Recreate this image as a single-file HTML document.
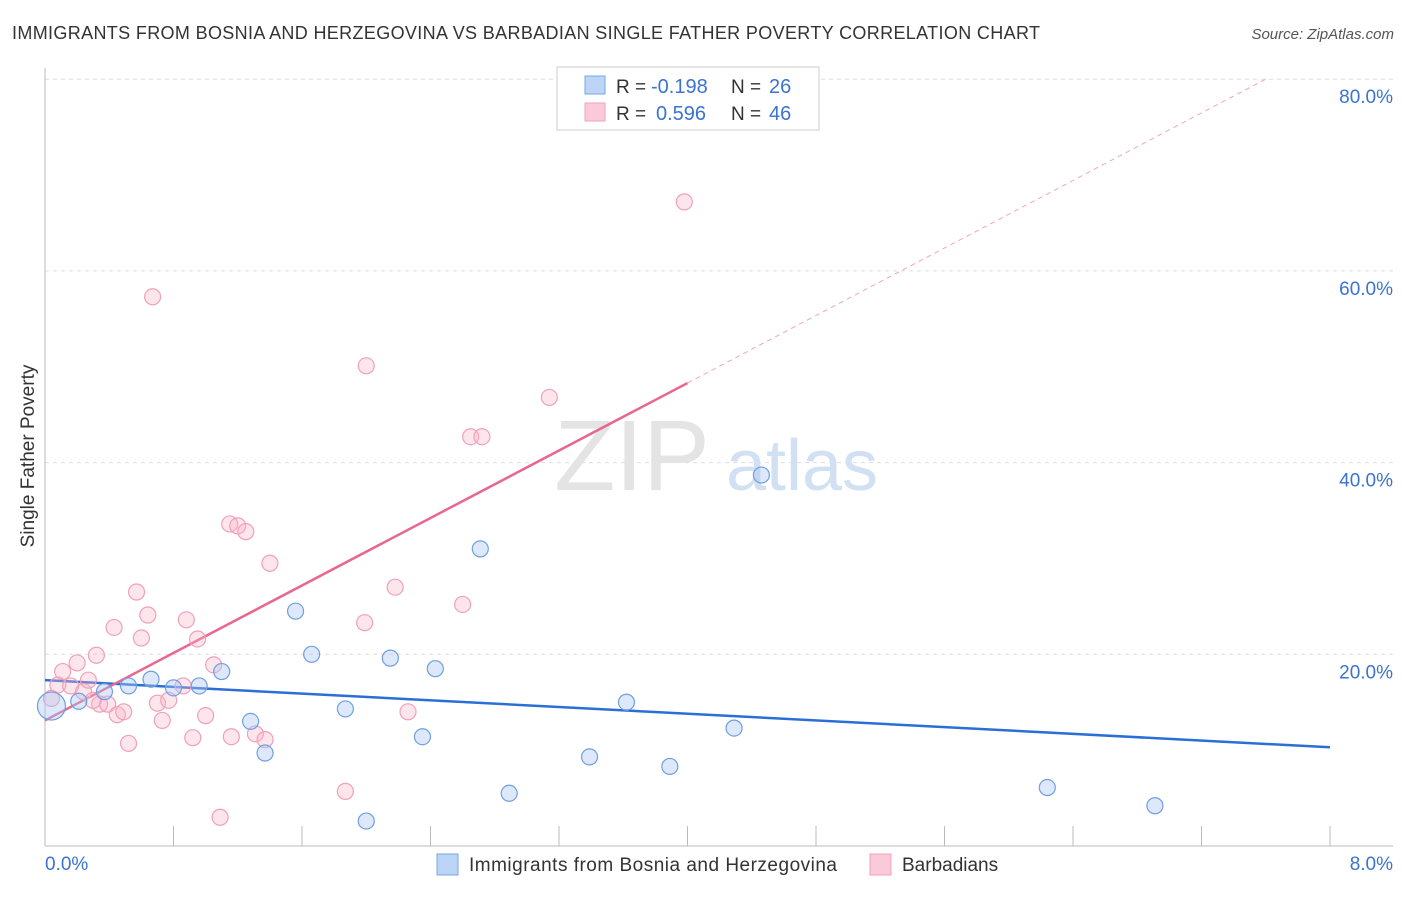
<!DOCTYPE html>
<html><head><meta charset="utf-8"><style>
body{margin:0;background:#fff;font-family:"Liberation Sans",sans-serif;}
svg text{font-family:"Liberation Sans",sans-serif;}
</style></head><body>
<svg width="1406" height="892" xmlns="http://www.w3.org/2000/svg">
<text x="12" y="39" font-size="18" fill="#333" textLength="1028" lengthAdjust="spacing">IMMIGRANTS FROM BOSNIA AND HERZEGOVINA VS BARBADIAN SINGLE FATHER POVERTY CORRELATION CHART</text>
<text x="1394" y="39" font-size="15" fill="#555" font-style="italic" text-anchor="end">Source: ZipAtlas.com</text>
<g id="grid"></g>
<text x="632" y="490" font-size="100" fill="#e4e4e4" font-family="Liberation Serif" text-anchor="middle">ZIP</text>
<text x="802" y="490" font-size="72" fill="#d2e0f3" text-anchor="middle">atlas</text>
<line x1="45" y1="68" x2="45" y2="846" stroke="#bbb"/>
<line x1="45" y1="846" x2="1393" y2="846" stroke="#bbb"/>
<g id="xticks"></g>
<g id="lines"></g>
<g id="pts"></g>
<text x="34" y="456" font-size="19" fill="#333" text-anchor="middle" transform="rotate(-90 34 456)">Single Father Poverty</text>
<text x="45" y="870" font-size="19" fill="#3a73d0">0.0%</text>
<text x="1393" y="870" font-size="19" fill="#3a73d0" text-anchor="end">8.0%</text>
<g>
<rect x="557" y="67" width="262" height="63" fill="#fff" stroke="#ccc"/>
<rect x="585" y="76" width="20" height="18" fill="#bcd4f5" stroke="#7aa6e6"/>
<rect x="585" y="103" width="20" height="18" fill="#fbcad9" stroke="#f0a0bb"/>
<text x="616" y="93" font-size="19" fill="#333">R =</text>
<text x="651" y="93" font-size="20" fill="#3a73d0">-0.198</text>
<text x="731" y="93" font-size="19" fill="#333">N =</text>
<text x="769" y="93" font-size="20" fill="#3a73d0">26</text>
<text x="616" y="120" font-size="19" fill="#333">R =</text>
<text x="656" y="120" font-size="20" fill="#3a73d0">0.596</text>
<text x="731" y="120" font-size="19" fill="#333">N =</text>
<text x="769" y="120" font-size="20" fill="#3a73d0">46</text>
</g>
<g>
<rect x="437" y="854" width="21" height="21" fill="#bcd4f5" stroke="#7aa6e6"/>
<text x="469" y="871" font-size="19" fill="#333" textLength="368" lengthAdjust="spacing">Immigrants from Bosnia and Herzegovina</text>
<rect x="870" y="854" width="21" height="21" fill="#fbcad9" stroke="#f0a0bb"/>
<text x="902" y="871" font-size="19" fill="#333">Barbadians</text>
</g>
</svg>
<script>
const yTicks=[20,40,60,80];
const xTickVals=[0,0.8,1.6,2.4,3.2,4.0,4.8,5.6,6.4,7.2,8.0];
const blueX=[0.04,0.21,0.37,0.52,0.66,0.80,0.96,1.10,1.28,1.37,1.56,1.66,1.87,2.0,2.15,2.35,2.43,2.71,2.89,3.39,3.62,3.89,4.29,4.46,6.24,6.91];
const blueY=[14.6,15.1,16.1,16.7,17.4,16.5,16.7,18.2,13.0,9.7,24.5,20.0,14.3,2.6,19.6,11.4,18.5,31.0,5.5,9.3,15.0,8.3,12.3,38.7,6.1,4.2];
const pinkX=[0.04,0.08,0.11,0.16,0.20,0.24,0.27,0.32,0.34,0.39,0.43,0.45,0.49,0.52,0.57,0.60,0.64,0.67,0.70,0.73,0.77,0.86,0.88,0.92,0.95,1.00,1.05,1.09,1.15,1.16,1.20,1.25,1.31,1.37,1.40,1.87,1.99,2.0,2.18,2.26,2.60,2.65,2.72,3.14,3.98,0.30];
const pinkY=[15.4,16.8,18.2,16.7,19.1,16.1,17.3,19.9,14.8,14.8,22.8,13.7,14.0,10.7,26.5,21.7,24.1,57.3,14.9,13.1,15.2,16.7,23.6,11.3,21.6,13.6,18.9,3.0,33.6,11.4,33.4,32.8,11.7,11.1,29.5,5.7,23.3,50.1,27.0,14.0,25.2,42.7,42.7,46.8,67.2,15.2];
const blueTrend=[17.3,10.3];
const pinkTrend=[13.1,48.3,80];
const NS="http://www.w3.org/2000/svg";
const X=v=>45+v/8*1285, Y=v=>846-v*9.585;
function mk(t,a,p){const e=document.createElementNS(NS,t);for(const k in a)e.setAttribute(k,a[k]);document.getElementById(p).appendChild(e);return e;}
yTicks.forEach(t=>{
 const l=mk('line',{x1:45,x2:1393,y1:Y(t),y2:Y(t),stroke:'#ddd','stroke-dasharray':'4,4'},'grid');
 
 
 const tx=mk('text',{x:1393,y:Y(t)+24,'font-size':19,fill:'#3a73d0','text-anchor':'end'},'grid');
 tx.textContent=t.toFixed(1)+'%';
 
 
});
xTickVals.forEach(t=>{
 const l=mk('line',{x1:X(t),x2:X(t),y1:826,y2:846,stroke:'#bbb'},'xticks');
 
 
});
let l=mk('line',{x1:X(0),y1:Y(blueTrend[0]),x2:X(8),y2:Y(blueTrend[1]),stroke:'#2b6fd6','stroke-width':2.5},'lines');


l=mk('line',{x1:X(0),y1:Y(pinkTrend[0]),x2:X(4),y2:Y(pinkTrend[1]),stroke:'#e8668f','stroke-width':2.5},'lines');


l=mk('line',{x1:X(4),y1:Y(pinkTrend[1]),x2:X(7.6),y2:Y(pinkTrend[2]),stroke:'#f0a6bd','stroke-width':1,'stroke-dasharray':'5,4'},'lines');


pinkX.forEach((x,i)=>{
 const c=mk('circle',{cx:X(x),cy:Y(pinkY[i]),r:8,fill:'rgba(248,180,200,0.35)',stroke:'#f0a0bb','stroke-width':1.2},'pts');
 
 
});
blueX.forEach((x,i)=>{
 const c=mk('circle',{cx:X(x),cy:Y(blueY[i]),r:i==0?14:8,fill:'rgba(170,200,245,0.4)',stroke:'#6f9fe0','stroke-width':1.2},'pts');
 
 
});
</script>
</body></html>
